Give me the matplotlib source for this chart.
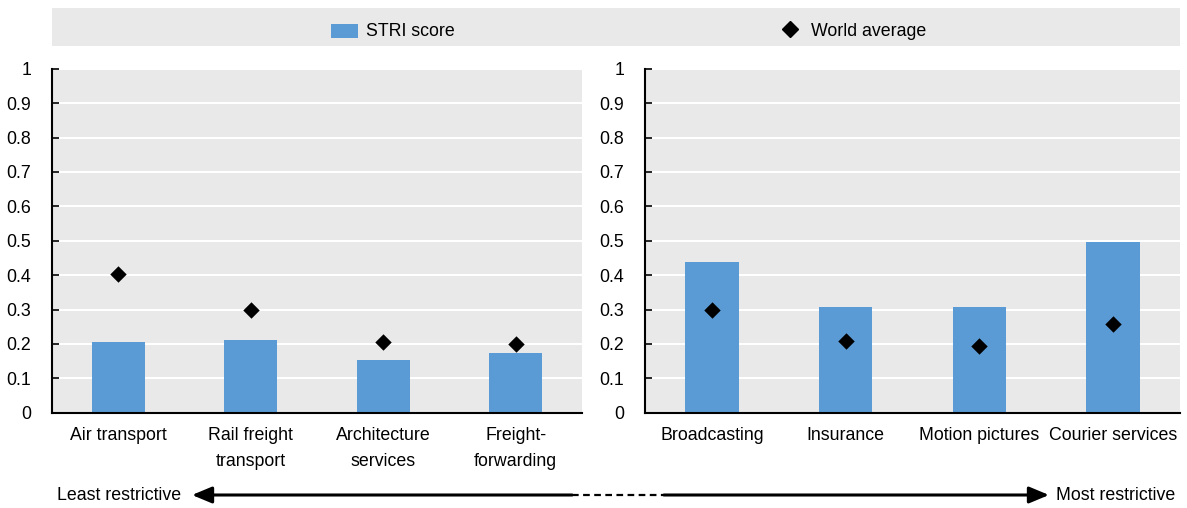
import matplotlib
matplotlib.use("Agg")
import matplotlib.pyplot as plt
from matplotlib.patches import Rectangle, FancyArrowPatch
from matplotlib.lines import Line2D

plt.rcParams['font.family'] = ['Liberation Sans', 'DejaVu Sans']
FS = 12.8

left_categories = ["Air transport", "Rail freight\ntransport", "Architecture\nservices", "Freight-\nforwarding"]
left_stri = [0.205, 0.210, 0.153, 0.175]
left_world = [0.402, 0.300, 0.205, 0.200]

right_categories = ["Broadcasting", "Insurance", "Motion pictures", "Courier services"]
right_stri = [0.437, 0.308, 0.308, 0.496]
right_world = [0.298, 0.208, 0.194, 0.258]

y_ticks = [0, 0.1, 0.2, 0.3, 0.4, 0.5, 0.6, 0.7, 0.8, 0.9, 1]
y_ticklabels = ["0", "0.1", "0.2", "0.3", "0.4", "0.5", "0.6", "0.7", "0.8", "0.9", "1"]

BAR = '#5b9bd5'
BG = '#e9e9e9'
W, H = 1187, 508
fig = plt.figure(figsize=(W / 100, H / 100), dpi=100)

def fx(px):
    return px / W

def fy(py):
    return 1 - py / H

def draw_panel(rect, cats, stri, world):
    ax = fig.add_axes(rect)
    ax.set_facecolor(BG)
    x = list(range(len(cats)))
    ax.bar(x, stri, width=0.4, color=BAR, zorder=3)
    ax.scatter(x, world, marker='D', s=70, color='black', zorder=4, linewidths=0)
    ax.set_xlim(-0.5, len(cats) - 0.5)
    ax.set_ylim(0, 1)
    ax.set_yticks(y_ticks)
    ax.set_yticklabels(y_ticklabels, fontsize=FS)
    ax.set_xticks(x)
    ax.set_xticklabels(cats, fontsize=FS, linespacing=1.7)
    ax.tick_params(axis='x', length=0, pad=10)
    ax.tick_params(axis='y', direction='in', length=5, width=1.2, pad=15, color='black')
    ax.grid(axis='y', color='white', linewidth=1.5, zorder=0)
    ax.set_axisbelow(True)
    for s in ['top', 'right']:
        ax.spines[s].set_visible(False)
    for s in ['left', 'bottom']:
        ax.spines[s].set_linewidth(1.5)
        ax.spines[s].set_color('black')
        ax.spines[s].set_zorder(5)
    return ax

ax1 = draw_panel([fx(52), fy(412.7), fx(582 - 52), 344 / H], left_categories, left_stri, left_world)
ax2 = draw_panel([fx(645), fy(412.7), fx(1180 - 645), 344 / H], right_categories, right_stri, right_world)

# Legend band
fig.patches.append(Rectangle((fx(52), fy(46)), fx(1180 - 52), 38 / H,
                             transform=fig.transFigure, facecolor=BG, edgecolor='none', zorder=0))
fig.patches.append(Rectangle((fx(331), fy(37.5)), fx(27), 14 / H,
                             transform=fig.transFigure, facecolor=BAR, edgecolor='none', zorder=1))
fig.text(fx(366), fy(31), "STRI score", fontsize=FS, va='center', ha='left')
fig.lines.append(Line2D([fx(790)], [fy(29)], transform=fig.transFigure, marker='D',
                        markersize=8.5, color='black', linestyle='none'))
fig.text(fx(811), fy(31), "World average", fontsize=FS, va='center', ha='left')

# Arrows
ya = fy(495)
fig.patches.append(FancyArrowPatch((fx(572), ya), (fx(192), ya), transform=fig.transFigure,
                                   arrowstyle='-|>,head_length=12,head_width=5', mutation_scale=1,
                                   color='black', linewidth=2.2, shrinkA=0, shrinkB=0))
fig.patches.append(FancyArrowPatch((fx(664), ya), (fx(1049), ya), transform=fig.transFigure,
                                   arrowstyle='-|>,head_length=12,head_width=5', mutation_scale=1,
                                   color='black', linewidth=2.2, shrinkA=0, shrinkB=0))
fig.lines.append(Line2D([fx(572), fx(664)], [ya, ya], transform=fig.transFigure,
                        color='black', linewidth=1.6, linestyle=(0, (3, 2))))
fig.text(fx(57), fy(496), "Least restrictive", fontsize=FS, va='center', ha='left')
fig.text(fx(1175), fy(496), "Most restrictive", fontsize=FS, va='center', ha='right')

fig.savefig("out.png", dpi=100)
